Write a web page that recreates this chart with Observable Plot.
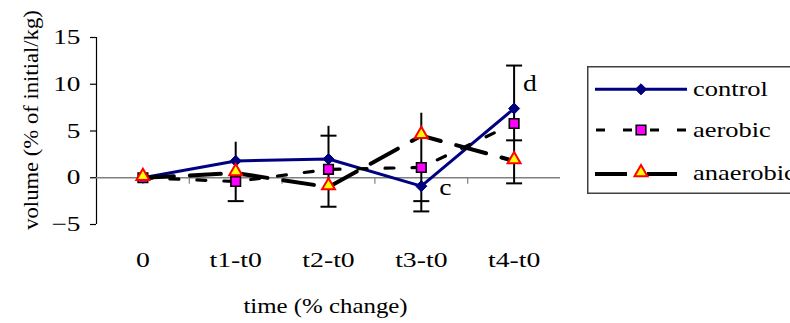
<!DOCTYPE html>
<html>
<head>
<meta charset="utf-8">
<script src="https://cdn.jsdelivr.net/npm/d3@7"></script>
<script src="https://cdn.jsdelivr.net/npm/@observablehq/plot@0.6"></script>
<style>
  html, body { margin: 0; padding: 0; background: #fff; overflow: hidden; }
  #wrap { position: relative; width: 790px; height: 323px; overflow: hidden; background: #fff; }
</style>
</head>
<body>
<div id="wrap"></div>
<script>
// ---- data ----
const categories = ["0", "t1-t0", "t2-t0", "t3-t0", "t4-t0"];
const seriesNames = ["control", "aerobic", "anaerobic"];
const control   = [0, 1.8, 2.0, -0.9, 7.4];
const aerobic   = [0, -0.4, 0.9, 1.1, 5.8];
const anaerobic = [0, 0.5, -1.0, 4.5, 1.8];
const yTicks = [-5, 0, 5, 10, 15];
const yDomain = [-5, 15];

// error bars: vertical extents and the caps drawn on them
const errCategory = ["t1-t0", "t2-t0", "t3-t0", "t4-t0"];
const errHigh     = [3.8, 5.5, 6.9, 12.0];
const errLow      = [-2.5, -3.1, -3.6, -0.6];
const capCategory = ["t1-t0", "t2-t0", "t2-t0", "t3-t0", "t3-t0", "t4-t0", "t4-t0", "t4-t0"];
const capValue    = [-2.5, 4.5, -3.1, -2.5, -3.6, 12.0, 4.0, -0.6];

// significance letters attached to the control series
const noteCategory = ["t3-t0", "t4-t0"];
const noteText     = ["c", "d"];

const yTitle = "volume (% of initial/kg)";
const xTitle = "time (% change)";

// ---- tables ----
const idx = c => categories.indexOf(c);
const rows = vals => categories.map((c, i) => ({i, c, v: vals[i]}));
const controlRows = rows(control), aerobicRows = rows(aerobic), anaerobicRows = rows(anaerobic);
const errRows = errCategory.map((c, k) => ({i: idx(c), lo: errLow[k], hi: errHigh[k]}));
const capRows = capCategory.map((c, k) => ({i: idx(c), v: capValue[k]}));
const noteRows = noteCategory.map((c, k) => ({i: idx(c), v: control[idx(c)], t: noteText[k]}));
const boundaries = d3.range(1, categories.length).map(i => i - 0.5);

// custom stroke-only symbols
const capSymbol = {draw(ctx) { ctx.moveTo(-8, 0); ctx.lineTo(8, 0); }};
const tickSymbol = {draw(ctx) { ctx.moveTo(0, 0); ctx.lineTo(0, 6); }};

const NAVY = "#000080", MAGENTA = "#ff00ff", YELLOW = "#ffff00", RED = "#ff0000";
const FONT = "'Liberation Serif', 'Times New Roman', serif";

const chart = Plot.plot({
  width: 790,
  height: 323,
  marginLeft: 96,
  marginRight: 230,
  marginTop: 37,
  marginBottom: 99,
  x: {domain: [-0.5, categories.length - 0.5]},
  y: {domain: yDomain},
  style: {fontFamily: FONT, fontSize: "21px", color: "#000", background: "transparent"},
  marks: [
    Plot.ruleX([-0.5], {stroke: "#000", strokeWidth: 1.2}),
    Plot.axisY({ticks: yTicks, tickSize: 6, tickPadding: 10, label: null, fontSize: 21, stroke: "#000", strokeWidth: 1.2}),
    Plot.axisX({ticks: d3.range(categories.length), tickFormat: i => categories[i], tickSize: 0, tickPadding: 28, label: null, fontSize: 21}),
    Plot.ruleY([0], {stroke: "#808080", strokeWidth: 1.4}),
    Plot.dot(boundaries, {x: d => d, y: 0, symbol: tickSymbol, fill: "none", stroke: "#808080", strokeWidth: 1.2}),
    // error bars
    Plot.ruleX(errRows, {x: "i", y1: "lo", y2: "hi", stroke: "#000", strokeWidth: 2}),
    Plot.dot(capRows, {x: "i", y: "v", symbol: capSymbol, fill: "none", stroke: "#000", strokeWidth: 2}),
    // series
    Plot.line(controlRows, {x: "i", y: "v", stroke: NAVY, strokeWidth: 3}),
    Plot.dot(controlRows, {x: "i", y: "v", symbol: "diamond2", r: 5, fill: NAVY, stroke: NAVY, strokeWidth: 1}),
    Plot.line(aerobicRows, {x: "i", y: "v", stroke: "#000", strokeWidth: 3.2, strokeDasharray: "9,18"}),
    Plot.dot(aerobicRows, {x: "i", y: "v", symbol: "square", r: 5.4, fill: MAGENTA, stroke: "#000", strokeWidth: 1.6}),
    Plot.line(anaerobicRows, {x: "i", y: "v", stroke: "#000", strokeWidth: 4, strokeDasharray: "31,16"}),
    Plot.dot(anaerobicRows, {x: "i", y: "v", symbol: "triangle", r: 4.8, fill: YELLOW, stroke: RED, strokeWidth: 2, dy: -1.5}),
    // significance letters
    Plot.text(noteRows.filter(d => d.t === "c"), {x: "i", y: "v", text: "t", textAnchor: "start", lineAnchor: "middle", dx: 18, dy: 1.5, fontSize: 24, ariaLabel: () => "note"}),
    Plot.text(noteRows.filter(d => d.t === "d"), {x: "i", y: "v", text: "t", textAnchor: "start", lineAnchor: "middle", dx: 9, dy: -25, fontSize: 24, ariaLabel: () => "note"}),
    // axis titles
    Plot.text([yTitle], {text: d => d, frameAnchor: "left", textAnchor: "middle", lineAnchor: "middle", rotate: -90, dx: -66, dy: -11, fontSize: 22, ariaLabel: () => "ytitle"}),
    Plot.text([xTitle], {text: d => d, frameAnchor: "bottom", textAnchor: "middle", lineAnchor: "middle", dx: -3, dy: 81, fontSize: 22, ariaLabel: () => "xtitle"})
  ]
});

const wrap = document.getElementById("wrap");
wrap.appendChild(chart);

// ---- legend (boxed, partly cut off on the right as in the reference) ----
const lg = d3.select(wrap).append("svg")
  .attr("width", 203).attr("height", 130)
  .style("position", "absolute").style("left", "587px").style("top", "66px");
lg.append("rect").attr("x", 0.75).attr("y", 0.75).attr("width", 240).attr("height", 126.5)
  .attr("fill", "#fff").attr("stroke", "#404040").attr("stroke-width", 1.5);
const legendStyles = [
  {ly: 23.3, ty: 30, dash: null, w: 3, x1: 8, x2: 100, sym: d3.symbolDiamond2, r: 5, fill: NAVY, stroke: NAVY, sw: 1, line: NAVY},
  {ly: 64, ty: 71, dash: "9,18", w: 3.2, x1: 9, x2: 99, sym: d3.symbolSquare, r: 5.4, fill: MAGENTA, stroke: "#000", sw: 1.6, line: "#000"},
  {ly: 108, ty: 114, dash: "32,20", w: 4, x1: 8, x2: 90, sym: d3.symbolTriangle, r: 4.8, fill: YELLOW, stroke: RED, sw: 2, line: "#000"}
];
seriesNames.forEach((name, k) => {
  const s = legendStyles[k];
  lg.append("line").attr("x1", s.x1).attr("x2", s.x2).attr("y1", s.ly).attr("y2", s.ly)
    .attr("stroke", s.line).attr("stroke-width", s.w).attr("stroke-dasharray", s.dash);
  lg.append("path").attr("d", d3.symbol(s.sym, Math.PI * s.r * s.r)())
    .attr("transform", `translate(54,${s.ly + (k === 2 ? -1.5 : 0)})`)
    .attr("fill", s.fill).attr("stroke", s.stroke).attr("stroke-width", s.sw);
  lg.append("text").attr("class", "legend-text").attr("x", 106).attr("y", s.ty)
    .attr("font-family", FONT).attr("font-size", 21).attr("fill", "#000").text(name);
});

// ---- widen glyphs horizontally, as in the (stretched) reference ----
function stretch(root, selector, f) {
  root.querySelectorAll(selector).forEach(t => {
    const len = t.getComputedTextLength();
    if (len > 0) {
      t.setAttribute("textLength", (len * f).toFixed(2));
      t.setAttribute("lengthAdjust", "spacingAndGlyphs");
    }
  });
}
const sel = name => `g[aria-label="${name}"] text, text[aria-label="${name}"]`;
stretch(chart, sel("y-axis tick label"), 1.3);
stretch(chart, sel("x-axis tick label"), 1.32);
stretch(chart, sel("note"), 1.15);
stretch(chart, sel("xtitle"), 1.13);
stretch(chart, sel("ytitle"), 1.03);
stretch(wrap, 'text.legend-text', 1.26);
</script>
</body>
</html>
